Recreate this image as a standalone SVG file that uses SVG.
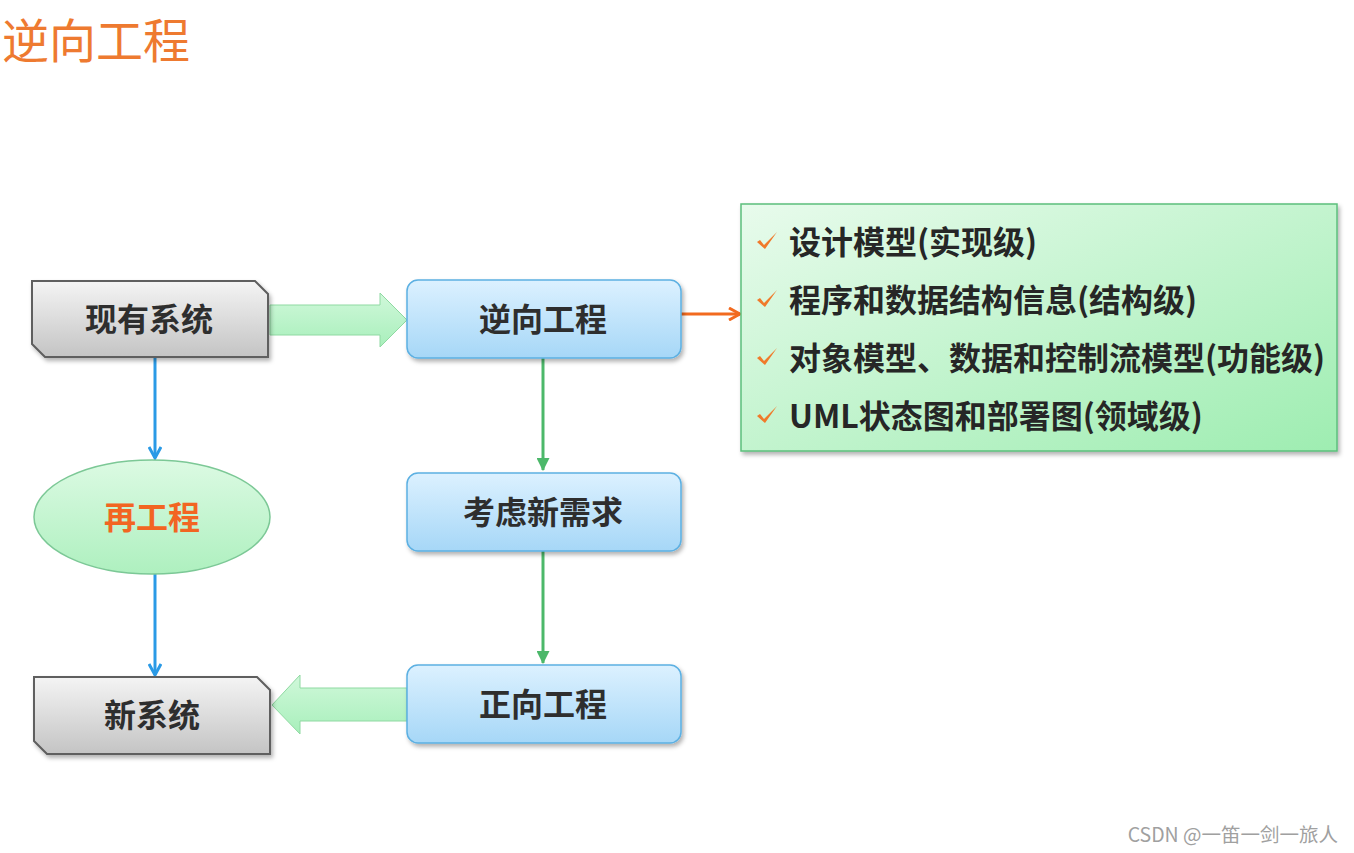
<svg xmlns="http://www.w3.org/2000/svg" width="1354" height="853" viewBox="0 0 1354 853">
<defs>
<linearGradient id="gGray" x1="0" y1="0" x2="0" y2="1"><stop offset="0" stop-color="#f4f4f4"/><stop offset="1" stop-color="#c4c4c4"/></linearGradient>
<linearGradient id="gBlue" x1="0" y1="0" x2="0" y2="1"><stop offset="0" stop-color="#dcf1ff"/><stop offset="1" stop-color="#a6d7f7"/></linearGradient>
<linearGradient id="gGreen" x1="0" y1="0" x2="0" y2="1"><stop offset="0" stop-color="#dcfae3"/><stop offset="1" stop-color="#aef0bf"/></linearGradient>
<linearGradient id="gList" x1="0" y1="0" x2="1" y2="1"><stop offset="0" stop-color="#e8fbec"/><stop offset="1" stop-color="#9eedb1"/></linearGradient>
<linearGradient id="gArrow" x1="0" y1="0" x2="0" y2="1"><stop offset="0" stop-color="#d0f8da"/><stop offset="1" stop-color="#a8efbb"/></linearGradient>
<filter id="sh" x="-10%" y="-10%" width="120%" height="130%"><feDropShadow dx="2" dy="3" stdDeviation="2" flood-color="#000" flood-opacity="0.3"/></filter>
<marker id="mBlue" viewBox="0 0 14 14" refX="12" refY="7" markerWidth="14" markerHeight="14" markerUnits="userSpaceOnUse" orient="auto"><path d="M1,1 L12,7 L1,13" fill="none" stroke="#2a9ae6" stroke-width="3"/></marker>
<marker id="mGreen" viewBox="0 0 12 12" refX="11" refY="6" markerWidth="13" markerHeight="13" markerUnits="userSpaceOnUse" orient="auto"><path d="M0,0 L12,6 L0,12 Z" fill="#4cb86a"/></marker>
<marker id="mOrange" viewBox="0 0 14 14" refX="12" refY="7" markerWidth="14" markerHeight="14" markerUnits="userSpaceOnUse" orient="auto"><path d="M1,1 L12,7 L1,13" fill="none" stroke="#f26a1f" stroke-width="3"/></marker>
<path id="chk" d="M0,10 L3,8 L7,13 L20,0 L8,17 Z" fill="#f07a2a"/>
</defs>
<style>
.lbl{font-family:"Noto Sans CJK SC",sans-serif;font-weight:bold;font-size:32px;fill:#2e2e2e;text-anchor:middle}
.gray{fill:url(#gGray);stroke:#5e5e5e;stroke-width:2}
.blue{fill:url(#gBlue);stroke:#5cb0e2;stroke-width:1.5}
.item{font-family:"Noto Sans CJK SC",sans-serif;font-weight:bold;font-size:32px;fill:#262626}
</style>
<rect width="1354" height="853" fill="#ffffff"/>
<text x="2" y="58" font-family="Noto Sans CJK SC, sans-serif" font-size="47" fill="#ee7a30">逆向工程</text>

<g id="connectors">
<path d="M270,305 L380,305 L380,293 L407,320 L380,347 L380,335 L270,335 Z" fill="url(#gArrow)" stroke="#8fd9a2" stroke-width="1"/>
<path d="M407,688 L300,688 L300,675 L272,705 L300,734 L300,721 L407,721 Z" fill="url(#gArrow)" stroke="#8fd9a2" stroke-width="1"/>
<line x1="681" y1="314" x2="740" y2="314" stroke="#f26a1f" stroke-width="3" marker-end="url(#mOrange)"/>
<line x1="543" y1="358" x2="543" y2="470" stroke="#4cb86a" stroke-width="3" marker-end="url(#mGreen)"/>
<line x1="543" y1="551" x2="543" y2="663" stroke="#4cb86a" stroke-width="3" marker-end="url(#mGreen)"/>
<line x1="155" y1="357" x2="155" y2="458" stroke="#2a9ae6" stroke-width="3" marker-end="url(#mBlue)"/>
<line x1="155" y1="574" x2="155" y2="675" stroke="#2a9ae6" stroke-width="3" marker-end="url(#mBlue)"/>
</g>

<g id="existing">
<path class="gray" filter="url(#sh)" d="M32,281 L255,281 L268,294 L268,357 L45,357 L32,344 Z"/>
<text class="lbl" x="149" y="331">现有系统</text>
</g>
<g id="newsys">
<path class="gray" filter="url(#sh)" d="M34,677 L257,677 L270,690 L270,754 L47,754 L34,741 Z"/>
<text class="lbl" x="152" y="727">新系统</text>
</g>
<g id="reeng">
<ellipse cx="152" cy="517" rx="118" ry="57" fill="url(#gGreen)" stroke="#7cc896" stroke-width="1.5"/>
<text class="lbl" x="152" y="529" style="fill:#f26522">再工程</text>
</g>
<g id="reverse">
<rect class="blue" filter="url(#sh)" x="407" y="280" width="274" height="78" rx="11"/>
<text class="lbl" x="543" y="331">逆向工程</text>
</g>
<g id="newreq">
<rect class="blue" filter="url(#sh)" x="407" y="473" width="274" height="78" rx="11"/>
<text class="lbl" x="543" y="524">考虑新需求</text>
</g>
<g id="forward">
<rect class="blue" filter="url(#sh)" x="407" y="665" width="274" height="78" rx="11"/>
<text class="lbl" x="543" y="716">正向工程</text>
</g>
<g id="list">
<rect x="741" y="204" width="596" height="247" fill="url(#gList)" stroke="#5cbf7c" stroke-width="1.5" filter="url(#sh)"/>
<use href="#chk" x="757" y="232"/>
<use href="#chk" x="757" y="290"/>
<use href="#chk" x="757" y="348"/>
<use href="#chk" x="757" y="406"/>
<text class="item" x="789" y="254">设计模型(实现级)</text>
<text class="item" x="789" y="312">程序和数据结构信息(结构级)</text>
<text class="item" x="789" y="370">对象模型、数据和控制流模型(功能级)</text>
<text class="item" x="789" y="428">UML状态图和部署图(领域级)</text>
</g>
<text x="1338" y="842" text-anchor="end" font-family="Noto Sans CJK SC, sans-serif" font-size="19.5" fill="#a0a0a0">CSDN @一笛一剑一旅人</text>
</svg>
